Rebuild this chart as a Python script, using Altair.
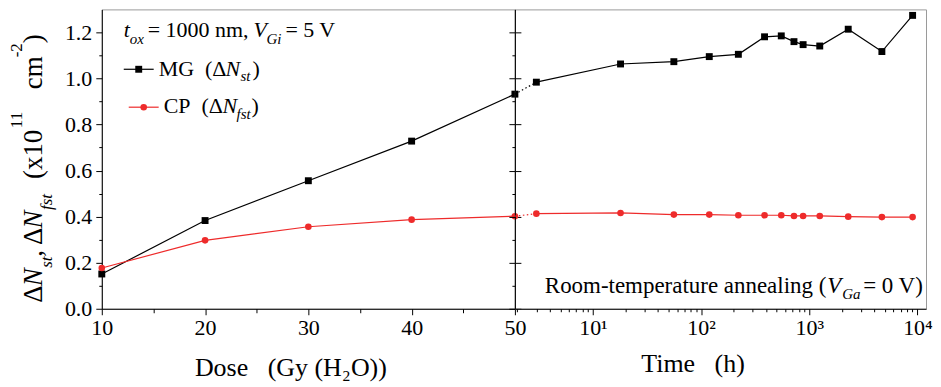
import altair as alt
import pandas as pd

FONT = "Liberation Serif"
BLACK = "#000000"
RED = "#ee2b2b"
FRAME = "#9a9a9a"

# ---------------- data ----------------
series = ["MG", "CP"]
dose_gy = [10, 20, 30, 40, 50]
mg_dose = [0.151, 0.383, 0.556, 0.728, 0.932]
cp_dose = [0.177, 0.297, 0.356, 0.387, 0.402]

time_h = [3, 18, 56, 119, 221, 386, 551, 722, 877, 1250, 2291, 4690, 9020]
mg_time = [0.984, 1.063, 1.073, 1.095, 1.105, 1.181, 1.185, 1.160, 1.147, 1.141, 1.214, 1.117, 1.274]
cp_time = [0.413, 0.416, 0.409, 0.409, 0.406, 0.406, 0.406, 0.403, 0.403, 0.403, 0.400, 0.398, 0.398]

time_domain = [1.9, 12000]
dose_domain = [10, 50]
y_domain = [0, 1.3]
y_ticks = [round(0.1 * i, 1) for i in range(13)]
y_major = [round(0.2 * i, 1) for i in range(7)]
dose_ticks = [10, 15, 20, 25, 30, 35, 40, 45, 50]
time_ticks = [m * 10 ** e for e in range(0, 4) for m in range(1, 10) if m * 10 ** e >= 2] + [10000]

df_dose = pd.DataFrame({
    "dose": dose_gy * 2,
    "v": mg_dose + cp_dose,
    "s": ["MG"] * len(dose_gy) + ["CP"] * len(dose_gy),
})
df_time = pd.DataFrame({
    "t": time_h * 2,
    "v": mg_time + cp_time,
    "s": ["MG"] * len(time_h) + ["CP"] * len(time_h),
})
df_link = pd.DataFrame({
    "t": [time_domain[0], time_h[0], time_domain[0], time_h[0]],
    "v": [mg_dose[-1], mg_time[0], cp_dose[-1], cp_time[0]],
    "s": ["MG", "MG", "CP", "CP"],
})

W_LEFT, W_RIGHT, H = 414, 412, 300

# ---------------- helpers ----------------
def txt(s, x, y, size=22, italic=False, angle=None):
    props = dict(font=FONT, fontSize=size, align="left", baseline="alphabetic", color=BLACK)
    if italic:
        props["fontStyle"] = "italic"
    if angle is not None:
        props["angle"] = angle
    return alt.Chart(pd.DataFrame({"t": [s]})).mark_text(**props).encode(
        text="t:N", x=alt.value(x), y=alt.value(y))


color_enc = alt.Color("s:N", scale=alt.Scale(domain=series, range=[BLACK, RED]), legend=None)
shape_enc = alt.Shape("s:N", scale=alt.Scale(domain=series, range=["square", "circle"]), legend=None)
size_enc = alt.Size("s:N", scale=alt.Scale(domain=series, range=[48, 44]), legend=None)

ysc = alt.Scale(domain=y_domain, nice=False, zero=False)
minor_y = "round(datum.value*10) % 2 == 0"

# ---------------- left panel ----------------
x_left = alt.X("dose:Q", scale=alt.Scale(domain=dose_domain, nice=False, zero=False),
               axis=alt.Axis(values=dose_ticks,
                             labelExpr="datum.value % 10 == 0 ? datum.label : ''",
                             tickSize={"condition": {"test": "datum.value % 10 == 0", "value": 6}, "value": 4},
                             labelFontSize=22, labelPadding=3, labelOverlap=False, labelFlush=False,
                             labelBound=False,
                             title="Dose\u00a0\u00a0\u00a0(Gy (H\u2082O))", titleFontSize=26,
                             titleX=189, titleY=67, titleBaseline="alphabetic", titleAlign="center"))
y_left = alt.Y("v:Q", scale=ysc,
               axis=alt.Axis(values=y_ticks,
                             labelExpr=minor_y + " ? format(datum.value, '.1f') : ''",
                             tickSize={"condition": {"test": minor_y, "value": 6}, "value": 3},
                             labelFontSize=22, labelPadding=4, title=None, labelOverlap=False))

base_left = alt.Chart(df_dose).encode(x=x_left, y=y_left, color=color_enc)
lines_left = base_left.mark_line(strokeWidth=1.2)
pts_left = base_left.mark_point(filled=True, opacity=1).encode(shape=shape_enc, size=size_enc)

right_axis_left = alt.Chart(df_dose).mark_point(opacity=0).encode(
    y=alt.Y("v:Q", scale=ysc,
            axis=alt.Axis(orient="right", values=y_major, labels=False, tickSize=6, title=None)))

# y-title pieces (rotated)
YM, YS, YP = -60, -50, -79.5
ytitle = [
    txt("\u0394", YM, 294, 27, angle=270),
    txt("N", YM, 277.5, 27, italic=True, angle=270),
    txt("st", YS, 259, 17, italic=True, angle=270),
    txt(",", YM, 248, 27, angle=270),
    txt("\u0394", YM, 236, 27, angle=270),
    txt("N", YM, 219.5, 27, italic=True, angle=270),
    txt("fst", YS, 201, 17, italic=True, angle=270),
    txt("(x10", YM, 170, 27, angle=270),
    txt("11", YP, 119, 17, angle=270),
    txt("cm", YM, 80, 27, angle=270),
    txt("-2", YP, 48, 17, angle=270),
    txt(")", YM, 34, 27, angle=270),
]

# legend block
one = pd.DataFrame({"k": [0]})
legend = [
    txt("t", 22, 28, 22, italic=True),
    txt("ox", 28, 35, 15, italic=True),
    txt("= 1000 nm,", 46, 28, 22),
    txt("V", 152, 28, 22, italic=True),
    txt("Gi", 165, 35, 15, italic=True),
    txt("= 5 V", 184, 28, 22),
    alt.Chart(one).mark_rule(color=BLACK, strokeWidth=1.2).encode(
        x=alt.value(22), x2=alt.value(52), y=alt.value(60)),
    alt.Chart(one).mark_point(shape="square", filled=True, size=48, color=BLACK, opacity=1).encode(
        x=alt.value(37), y=alt.value(60)),
    txt("MG\u00a0\u00a0(\u0394", 57, 67, 22),
    txt("N", 124, 67, 22, italic=True),
    txt("st", 139, 72, 15, italic=True),
    txt(")", 151, 67, 22),
    alt.Chart(one).mark_rule(color=RED, strokeWidth=1.2).encode(
        x=alt.value(27), x2=alt.value(57), y=alt.value(98)),
    alt.Chart(one).mark_point(shape="circle", filled=True, size=44, color=RED, opacity=1).encode(
        x=alt.value(42), y=alt.value(98)),
    txt("CP\u00a0\u00a0(\u0394", 62, 104, 22),
    txt("N", 121, 104, 22, italic=True),
    txt("fst", 135, 110, 15, italic=True),
    txt(")", 150, 104, 22),
]

left = alt.layer(
    alt.layer(lines_left, pts_left),
    right_axis_left,
    *ytitle,
    *legend,
).resolve_axis(y="independent").properties(width=W_LEFT, height=H)

# ---------------- right panel ----------------
time_label = ("datum.value == 10 ? '10\u00b9' : datum.value == 100 ? '10\u00b2' : "
              "datum.value == 1000 ? '10\u00b3' : datum.value == 10000 ? '10\u2074' : ''")
major_t = "indexof([10, 100, 1000, 10000], datum.value) >= 0"
x_right = alt.X("t:Q", scale=alt.Scale(type="log", domain=time_domain, nice=False),
                axis=alt.Axis(values=time_ticks, labelExpr=time_label,
                              tickSize={"condition": {"test": major_t, "value": 6}, "value": 3},
                              labelFontSize=22, labelPadding=3, labelOverlap=False, labelFlush=False,
                              labelBound=False,
                              title="Time\u00a0\u00a0\u00a0(h)", titleFontSize=26,
                              titleX=178, titleY=63, titleBaseline="alphabetic", titleAlign="center"))
y_right = alt.Y("v:Q", scale=ysc,
                axis=alt.Axis(values=y_ticks, labels=False,
                              tickSize={"condition": {"test": minor_y, "value": 6}, "value": 3},
                              title=None))

base_right = alt.Chart(df_time).encode(x=x_right, y=y_right, color=color_enc)
lines_right = base_right.mark_line(strokeWidth=1.2)
pts_right = base_right.mark_point(filled=True, opacity=1).encode(shape=shape_enc, size=size_enc)
link = alt.Chart(df_link).mark_line(strokeWidth=1.2, strokeDash=[1.5, 2.5]).encode(
    x=x_right, y=y_right, color=color_enc)

annot = [
    txt("Room-temperature annealing (", 30, 284, 23),
    txt("V", 313, 284, 23, italic=True),
    txt("Ga", 328, 290, 15, italic=True),
    txt("= 0 V)", 349, 284, 23),
]

right = alt.layer(lines_right, link, pts_right, *annot).properties(width=W_RIGHT, height=H)

chart = alt.hconcat(left, right, spacing=0, bounds="flush").properties(
    padding={"left": 0, "top": 0, "right": 0, "bottom": 0},
    background="white",
).configure_view(
    stroke=FRAME, strokeWidth=1
).configure_axis(
    labelFont=FONT, titleFont=FONT, labelColor=BLACK, titleColor=BLACK,
    domainColor=BLACK, tickColor=BLACK, domainWidth=1, tickWidth=1,
    grid=False, titleFontWeight="normal",
)

chart.save("out.html", embed_options={"renderer": "svg", "actions": False})
